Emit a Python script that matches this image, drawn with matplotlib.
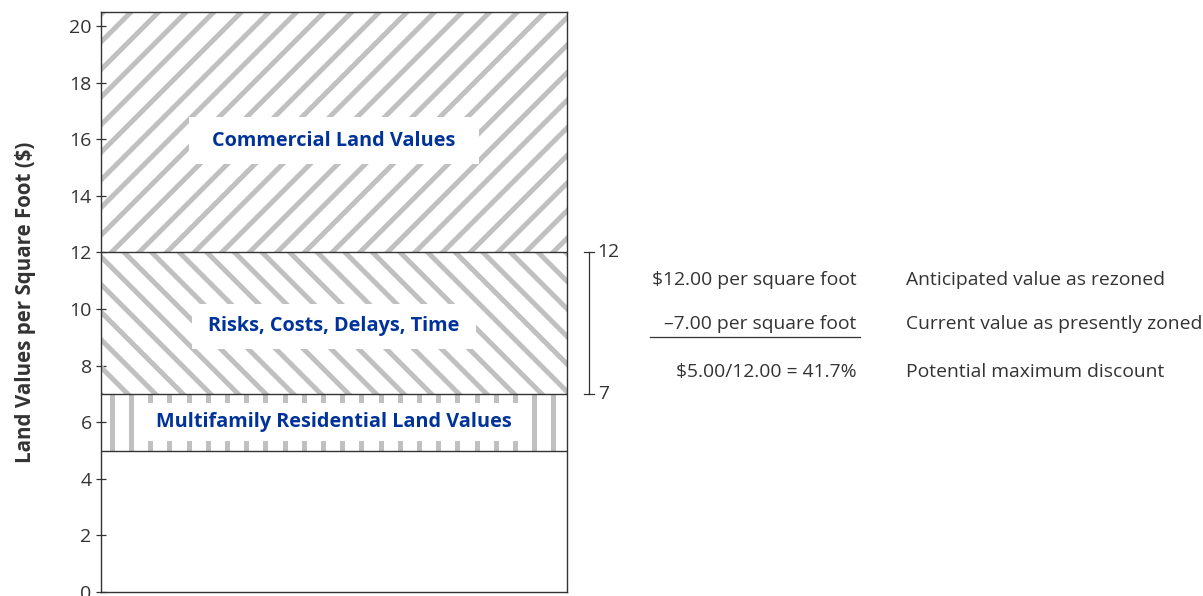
import numpy as np
import matplotlib.pyplot as plt
from matplotlib.collections import LineCollection
from matplotlib.transforms import Affine2D, blended_transform_factory
from matplotlib.lines import Line2D

plt.rcParams['font.family'] = ['Open Sans', 'DejaVu Sans']

# stacked segments of the single bar ($ per square foot)
segment_labels = ['Multifamily Residential Land Values',
                  'Risks, Costs, Delays, Time',
                  'Commercial Land Values']
segment_bottoms = [5, 7, 12]
segment_tops = [7, 12, 20.5]
segment_hatches = ['|', '\\', '/']

yticks = [0, 2, 4, 6, 8, 10, 12, 14, 16, 18, 20]

# bracket + calculation on the right
bracket_values = [12, 7]
calc_left = [r'\$12.00 per square foot', '–7.00 per square foot', r'\$5.00/12.00 = 41.7%']
calc_right = ['Anticipated value as rezoned', 'Current value as presently zoned',
              'Potential maximum discount']

dark = '#333333'
blue = '#003399'
stripe = '#c0c0c0'
dpi = 100
W, H = 1203, 596
rect = [101 / W, 4 / H, 466 / W, 580 / H]
fig = plt.figure(figsize=(W / dpi, H / dpi), dpi=dpi)
ax = fig.add_axes(rect)

# axes coords measured in pixels from the lower-left corner
aw, ah = rect[2] * W, rect[3] * H
pix = Affine2D().scale(1 / aw, 1 / ah) + ax.transAxes


def stripe_segments(kind):
    # wide hatch stripes (matplotlib's own hatch spacing is too tight here)
    if kind == '/':
        ks = np.arange(-700, 520, 27.6) + 12.0
        return [[(k - 50, -50), (k + 650, 650)] for k in ks]
    if kind == '\\':
        ks = np.arange(0, 1150, 27.6) + 4.0
        return [[(k + 50, -50), (k - 650, 650)] for k in ks]
    ks = np.arange(0, aw, 19.2) + 10.7
    return [[(k, -10), (k, ah + 10)] for k in ks]


for lo, hi, h in zip(segment_bottoms, segment_tops, segment_hatches):
    bar = ax.bar(0, hi - lo, bottom=lo, width=1, color='white', linewidth=0)[0]
    lc = LineCollection(stripe_segments(h), colors=stripe, linewidths=3.6,
                        transform=pix, capstyle='butt', zorder=2)
    ax.add_collection(lc, autolim=False)
    lc.set_clip_path(bar.get_path(), bar.get_transform())
for b in segment_bottoms:
    ax.axhline(b, color=dark, lw=1.0, zorder=3)

ax.set_xlim(-0.5, 0.5)
ax.set_ylim(0, 20.5)
ax.set_xticks([])
ax.set_yticks(yticks)
ax.tick_params(axis='y', direction='inout', length=7.5, width=0.9, color=dark,
               labelsize=14, labelcolor=dark, pad=3)
for s in ax.spines.values():
    s.set_color(dark)
    s.set_linewidth(1.0)

ax.set_ylabel('Land Values per Square Foot ($)', fontsize=14.8, fontweight='bold', color=dark)
ax.yaxis.set_label_coords(-0.139, 0.5)

# labels on the segments, white boxes behind them
label_style = dict(ha='center', va='center', color=blue, fontsize=14.3, fontweight='bold', zorder=4)
ax.text(0, 6, segment_labels[0],
        bbox=dict(boxstyle='square,pad=0.70', fc='white', ec='none', mutation_aspect=0.64), **label_style)
ax.text(0, 9.4, segment_labels[1],
        bbox=dict(boxstyle='square,pad=0.83', fc='white', ec='none', mutation_aspect=0.76), **label_style)
ax.text(0, 15.95, segment_labels[2],
        bbox=dict(boxstyle='square,pad=1.16', fc='white', ec='none', mutation_aspect=0.585), **label_style)

# bracket from 7 to 12
tr = blended_transform_factory(ax.transAxes, ax.transData)
ax.plot([1.047, 1.047], bracket_values, color=dark, lw=0.9, transform=tr, clip_on=False)
for v in bracket_values:
    ax.plot([1.036, 1.058], [v, v], color=dark, lw=0.9, transform=tr, clip_on=False)
    ax.text(1.066, v, str(v), transform=tr, ha='left', va='center', fontsize=13.9, color=dark)

calc_y = [11.03, 9.48, 7.78]
for left, right, y in zip(calc_left, calc_right, calc_y):
    ax.text(1.622, y, left, transform=tr, ha='right', va='center', fontsize=13.9, color=dark)
    ax.text(1.727, y, right, transform=tr, ha='left', va='center', fontsize=13.9, color=dark)
fig.add_artist(Line2D([650 / W, 860 / W], [1 - 337 / H, 1 - 337 / H], color=dark, lw=0.9))

fig.savefig('out.png', dpi=dpi)
